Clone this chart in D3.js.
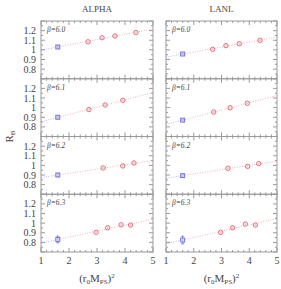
<!DOCTYPE html>
<html>
<head>
<meta charset="utf-8">
<script src="https://cdn.jsdelivr.net/npm/d3@7"></script>
<style>
  body { margin: 0; background: #fff; }
  text { font-family: "Liberation Serif", "DejaVu Serif", serif; fill: #444; }
</style>
</head>
<body>
<div id="chart"></div>
<script>
// data
const groups = ["ALPHA", "LANL"];
const betas = ["6.0", "6.1", "6.2", "6.3"];
const xTicks = [1, 2, 3, 4, 5];
const yTicks = [0.8, 0.9, 1, 1.1, 1.2];

const alphaX = [[2.68, 3.18, 3.64, 4.39], [2.71, 3.29, 3.92], [3.22, 3.92, 4.32], [2.97, 3.38, 3.86, 4.2]];
const alphaY = [[1.084, 1.126, 1.144, 1.18], [0.98, 1.027, 1.076], [0.973, 0.994, 1.025], [0.904, 0.952, 0.983, 0.98]];
const alphaBlueX = [1.6, 1.6, 1.6, 1.6];
const alphaBlueY = [1.03, 0.90, 0.90, 0.83];
const alphaBlueErr = [0.012, 0.012, 0.015, 0.035];

const lanlX = [[2.68, 3.16, 3.64, 4.39], [2.72, 3.31, 3.93], [3.23, 3.94, 4.34], [2.97, 3.4, 3.86, 4.22]];
const lanlY = [[1.006, 1.044, 1.064, 1.10], [0.954, 0.999, 1.045], [0.97, 0.99, 1.018], [0.904, 0.952, 0.99, 0.98]];
const lanlBlueX = [1.6, 1.6, 1.6, 1.6];
const lanlBlueY = [0.957, 0.87, 0.893, 0.824];
const lanlBlueErr = [0.01, 0.008, 0.015, 0.04];

const redErr = 0.008;

const width = 281, height = 289;
const colLeft = [41, 166], colRight = [153, 277];
const plotTop = 21, plotBottom = 252;
const panelH = (plotBottom - plotTop) / betas.length;
const red = "#e0606e", blue = "#6c6cd6", frame = "#9a9a9a";

const svg = d3.select("#chart").append("svg")
    .attr("width", width).attr("height", height);

const sets = [
    {xs: alphaX, ys: alphaY, bx: alphaBlueX, by: alphaBlueY, be: alphaBlueErr},
    {xs: lanlX, ys: lanlY, bx: lanlBlueX, by: lanlBlueY, be: lanlBlueErr}
];

groups.forEach((name, gi) => {
    const x = d3.scaleLinear().domain([1, 5]).range([colLeft[gi], colRight[gi]]);
    svg.append("text")
        .attr("x", (colLeft[gi] + colRight[gi]) / 2).attr("y", 12)
        .attr("text-anchor", "middle").attr("font-size", 9)
        .text(name);

    betas.forEach((b, bi) => {
        const y0 = plotTop + bi * panelH;
        const y = d3.scaleLinear().domain([0.7, 1.3]).range([y0 + panelH, y0]);
        const g = svg.append("g");
        const s = sets[gi];

        // ticks, all inward on every side
        const xt = d3.range(1, 5.001, 0.2);
        xt.forEach(v => {
            const major = Math.abs(v - Math.round(v)) < 1e-6;
            const len = major ? 4 : 2;
            g.append("line").attr("x1", x(v)).attr("x2", x(v))
                .attr("y1", y0 + panelH).attr("y2", y0 + panelH - len).attr("stroke", frame);
            g.append("line").attr("x1", x(v)).attr("x2", x(v))
                .attr("y1", y0).attr("y2", y0 + len).attr("stroke", frame);
        });
        const yt = d3.range(0.7, 1.3001, 0.05);
        yt.forEach((v, i) => {
            const len = i % 2 === 0 ? 4 : 2;
            g.append("line").attr("x1", x.range()[0]).attr("x2", x.range()[0] + len)
                .attr("y1", y(v)).attr("y2", y(v)).attr("stroke", frame);
            g.append("line").attr("x1", x.range()[1]).attr("x2", x.range()[1] - len)
                .attr("y1", y(v)).attr("y2", y(v)).attr("stroke", frame);
        });
        g.append("rect")
            .attr("x", x.range()[0]).attr("y", y0)
            .attr("width", x.range()[1] - x.range()[0]).attr("height", panelH)
            .attr("fill", "none").attr("stroke", frame).attr("stroke-width", 1);

        if (gi === 0) {
            yTicks.forEach(v => {
                g.append("text").attr("x", 36).attr("y", y(v) + 3.5)
                    .attr("text-anchor", "end").attr("font-size", 10)
                    .text(d3.format("~g")(v));
            });
        }
        if (bi === betas.length - 1) {
            xTicks.forEach(v => {
                g.append("text").attr("x", x(v)).attr("y", plotBottom + 12)
                    .attr("text-anchor", "middle").attr("font-size", 10).text(v);
            });
        }

        g.append("text").attr("x", x.range()[0] + 6).attr("y", y0 + 11)
            .attr("font-size", 7.5).attr("font-style", "italic")
            .text("\u03b2=" + b);

        // straight fit through the points
        const px = s.xs[bi].concat([s.bx[bi]]);
        const py = s.ys[bi].concat([s.by[bi]]);
        const mx = d3.mean(px), my = d3.mean(py);
        const slope = d3.sum(px.map((v, i) => (v - mx) * (py[i] - my))) / d3.sum(px.map(v => (v - mx) * (v - mx)));
        const f = v => my + slope * (v - mx);
        const line = d3.line().x(d => x(d)).y(d => y(f(d)));
        g.append("path").attr("d", line([1, s.bx[bi]]))
            .attr("fill", "none").attr("stroke", blue).attr("stroke-width", 0.8)
            .attr("stroke-dasharray", "1,1.5").attr("opacity", 0.6);
        g.append("path").attr("d", line([s.bx[bi], 5]))
            .attr("fill", "none").attr("stroke", red).attr("stroke-width", 0.8)
            .attr("stroke-dasharray", "1,1.5").attr("opacity", 0.6);

        // red circles
        s.xs[bi].forEach((v, i) => {
            const cy = s.ys[bi][i];
            g.append("line").attr("x1", x(v)).attr("x2", x(v))
                .attr("y1", y(cy - redErr)).attr("y2", y(cy + redErr))
                .attr("stroke", red).attr("stroke-width", 0.8);
            g.append("circle").attr("cx", x(v)).attr("cy", y(cy)).attr("r", 2.2)
                .attr("fill", "#fbe3e6").attr("fill-opacity", 0.5)
                .attr("stroke", red).attr("stroke-width", 0.9);
        });

        // blue square
        const bx = x(s.bx[bi]), by = y(s.by[bi]);
        const e = s.be[bi];
        g.append("line").attr("x1", bx).attr("x2", bx)
            .attr("y1", y(s.by[bi] - e)).attr("y2", y(s.by[bi] + e))
            .attr("stroke", blue).attr("stroke-width", 0.8);
        [s.by[bi] - e, s.by[bi] + e].forEach(v => {
            g.append("line").attr("x1", bx - 1.5).attr("x2", bx + 1.5)
                .attr("y1", y(v)).attr("y2", y(v)).attr("stroke", blue).attr("stroke-width", 0.8);
        });
        g.append("rect").attr("x", bx - 2).attr("y", by - 2)
            .attr("width", 4).attr("height", 4)
            .attr("fill", "#dcdcf6").attr("fill-opacity", 0.6)
            .attr("stroke", blue).attr("stroke-width", 0.9);
    });

    // x axis label (r0 M_PS)^2
    const lab = svg.append("text")
        .attr("x", (colLeft[gi] + colRight[gi]) / 2).attr("y", 282)
        .attr("text-anchor", "middle").attr("font-size", 11);
    lab.append("tspan").text("(r");
    lab.append("tspan").attr("font-size", 7).attr("dy", 2).text("0");
    lab.append("tspan").attr("dy", -2).text("M");
    lab.append("tspan").attr("font-size", 7).attr("dy", 2).text("PS");
    lab.append("tspan").attr("dy", -2).text(")");
    lab.append("tspan").attr("font-size", 7).attr("dy", -4).text("2");
});

// y axis label R_B
const yl = svg.append("text")
    .attr("transform", "translate(13," + (plotTop + (plotBottom - plotTop) / 2) + ") rotate(-90)")
    .attr("text-anchor", "middle").attr("font-size", 11);
yl.append("tspan").text("R");
yl.append("tspan").attr("font-size", 7).attr("dy", 2).text("B");
</script>
</body>
</html>
